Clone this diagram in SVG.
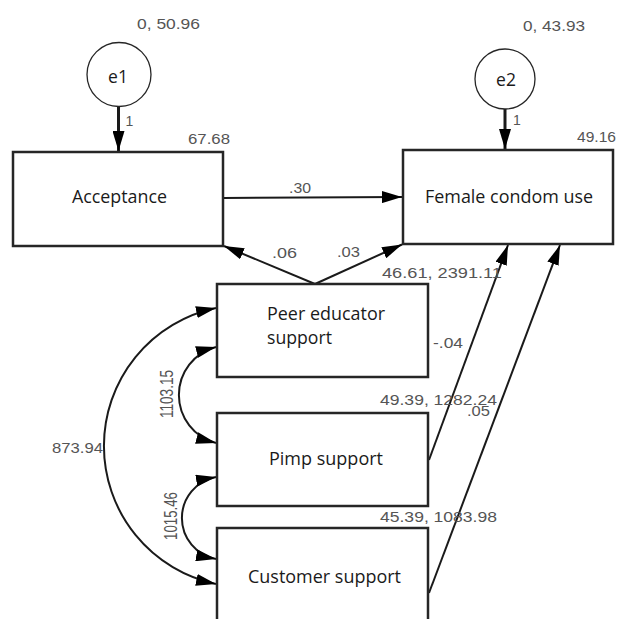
<svg xmlns="http://www.w3.org/2000/svg" width="620" height="619" viewBox="0 0 620 619">
<style>
.box{fill:#fff;stroke:#262626;stroke-width:2.5}
.circ{fill:#fff;stroke:#262626;stroke-width:1.3}
.lbl{font-family:"Open Sans","Noto Sans",sans-serif;font-size:17.5px;fill:#1a1a1a}
.num{font-family:"Liberation Sans",Arial,sans-serif;font-size:14px;fill:#555}
.edge{fill:none;stroke:#1a1a1a;stroke-width:2}
.heavy{fill:none;stroke:#1a1a1a;stroke-width:3}
</style>
<defs>
<marker id="ah" viewBox="0 0 20 12" refX="20" refY="6" markerWidth="20" markerHeight="12" markerUnits="userSpaceOnUse" orient="auto-start-reverse">
<path d="M0,0 L20,6 L0,12 z" fill="#000"/>
</marker>
</defs>
<rect width="620" height="619" fill="#fff"/>

<g id="connectors">
<line class="heavy" x1="118.5" y1="106" x2="118.5" y2="151" marker-end="url(#ah)"/>
<line class="heavy" x1="505" y1="109" x2="505" y2="149" marker-end="url(#ah)"/>
<line class="edge" x1="223" y1="198" x2="402" y2="197" marker-end="url(#ah)"/>
<line class="edge" x1="315" y1="284" x2="224" y2="246" marker-end="url(#ah)"/>
<line class="edge" x1="315" y1="284" x2="402" y2="244.5" marker-end="url(#ah)"/>
<line class="edge" x1="429" y1="460" x2="508" y2="245" marker-end="url(#ah)"/>
<line class="edge" x1="429" y1="593" x2="560" y2="245" marker-end="url(#ah)"/>
<path class="edge" d="M216,308 A141,141 0 0 0 216,584" marker-start="url(#ah)" marker-end="url(#ah)"/>
<path class="edge" d="M216,347 A49.6,49.6 0 0 0 216,443" marker-start="url(#ah)" marker-end="url(#ah)"/>
<path class="edge" d="M216,477 A41.7,41.7 0 0 0 216,559" marker-start="url(#ah)" marker-end="url(#ah)"/>
</g>

<g id="e1">
<circle class="circ" cx="119" cy="74.5" r="32"/>
<text class="lbl" x="118" y="83" text-anchor="middle">e1</text>
</g>
<g id="e2">
<circle class="circ" cx="505" cy="79" r="30"/>
<text class="lbl" x="506" y="86" text-anchor="middle">e2</text>
</g>
<g id="acceptance">
<rect class="box" x="13" y="152" width="210" height="94"/>
<text class="lbl" x="72" y="203" textLength="95" lengthAdjust="spacingAndGlyphs">Acceptance</text>
</g>
<g id="female-condom-use">
<rect class="box" x="403" y="150" width="210" height="94"/>
<text class="lbl" x="425" y="203" textLength="168" lengthAdjust="spacingAndGlyphs">Female condom use</text>
</g>
<g id="peer-educator-support">
<rect class="box" x="217" y="284" width="211" height="93"/>
<text class="lbl" x="267" y="320" textLength="118" lengthAdjust="spacingAndGlyphs">Peer educator</text>
<text class="lbl" x="267" y="344" textLength="65" lengthAdjust="spacingAndGlyphs">support</text>
</g>
<g id="pimp-support">
<rect class="box" x="217" y="413" width="211" height="93"/>
<text class="lbl" x="269" y="465" textLength="114" lengthAdjust="spacingAndGlyphs">Pimp support</text>
</g>
<g id="customer-support">
<rect class="box" x="217" y="528" width="211" height="100"/>
<text class="lbl" x="248" y="583" textLength="153" lengthAdjust="spacingAndGlyphs">Customer support</text>
</g>

<g id="labels">
<text class="num" x="137" y="29" textLength="63" lengthAdjust="spacingAndGlyphs">0, 50.96</text>
<text class="num" x="188" y="144" textLength="42" lengthAdjust="spacingAndGlyphs">67.68</text>
<text class="num" x="523" y="31" textLength="62" lengthAdjust="spacingAndGlyphs">0, 43.93</text>
<text class="num" x="577" y="142" textLength="39" lengthAdjust="spacingAndGlyphs">49.16</text>
<text class="num" x="125.5" y="126" font-size="13">1</text>
<text class="num" x="513" y="125" font-size="13">1</text>
<text class="num" x="289" y="193" textLength="22" lengthAdjust="spacingAndGlyphs">.30</text>
<text class="num" x="272" y="258" textLength="25" lengthAdjust="spacingAndGlyphs">.06</text>
<text class="num" x="337" y="257" textLength="23" lengthAdjust="spacingAndGlyphs">.03</text>
<text class="num" x="382" y="278" textLength="120" lengthAdjust="spacingAndGlyphs">46.61, 2391.11</text>
<text class="num" x="433" y="348" textLength="30" lengthAdjust="spacingAndGlyphs">-.04</text>
<text class="num" x="380" y="405" textLength="117" lengthAdjust="spacingAndGlyphs">49.39, 1282.24</text>
<text class="num" x="467" y="416" textLength="23" lengthAdjust="spacingAndGlyphs">.05</text>
<text class="num" x="380" y="522" textLength="117" lengthAdjust="spacingAndGlyphs">45.39, 1083.98</text>
<text class="num" x="52" y="453" textLength="51" lengthAdjust="spacingAndGlyphs">873.94</text>
<text class="num" transform="translate(173,394) scale(1.3,1) rotate(-90)" x="0" y="0" text-anchor="middle" textLength="48" lengthAdjust="spacingAndGlyphs">1103.15</text>
<text class="num" transform="translate(177,516) scale(1.3,1) rotate(-90)" x="0" y="0" text-anchor="middle" textLength="48" lengthAdjust="spacingAndGlyphs">1015.46</text>
</g>
</svg>
